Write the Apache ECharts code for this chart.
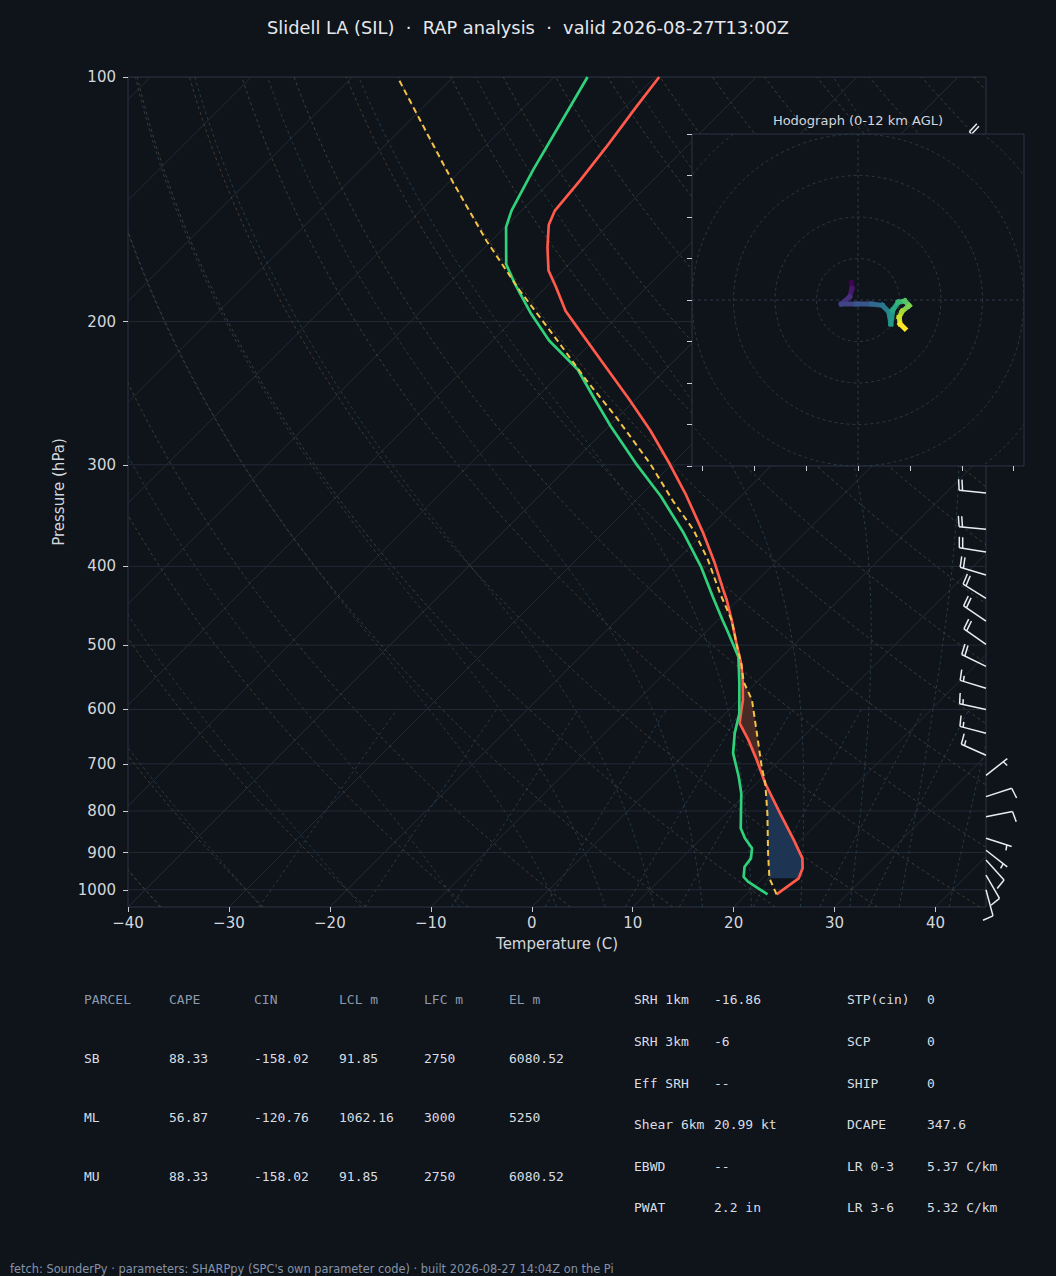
<!DOCTYPE html>
<html><head><meta charset="utf-8">
<script src="https://cdn.jsdelivr.net/npm/echarts@6/dist/echarts.min.js"></script>
<style>html,body{margin:0;padding:0;background:#0f131a;}#c{width:1056px;height:1276px;}</style>
</head><body><div id="c"></div>
<script>
// ---------------- data ----------------
const titleText = 'Slidell LA (SIL)  \u00b7  RAP analysis  \u00b7  valid 2026-08-27T13:00Z';
const footerText = "fetch: SounderPy \u00b7 parameters: SHARPpy (SPC's own parameter code) \u00b7 built 2026-08-27 14:04Z on the Pi";
const pressureTicks = [100,200,300,400,500,600,700,800,900,1000];
const tempTicks = [-40,-30,-20,-10,0,10,20,30,40];

const envP = [1013,968,941,915,868,805,740,692,654,624,610,584,555,529,498,466,440,428,395,363,327,300,272,249,225,205,194,181,173,162,152,146,134,122,109,100];
const envT = [23.0,23.6,23.0,22.0,19.3,15.3,10.9,7.7,4.9,2.4,1.7,0.4,-1.4,-3.2,-5.8,-8.6,-11.1,-12.4,-16.1,-20.2,-25.5,-30.1,-35.5,-40.7,-46.8,-52.4,-55.7,-59.1,-61.4,-63.8,-65.9,-66.7,-67.2,-67.9,-68.9,-69.6];

const dewP = [1013,977,964,937,915,889,864,840,761,726,679,642,607,557,517,479,466,436,400,364,328,299,269,249,229,211,195,179,170,153,146,130,114,100];
const dewT = [22.1,18.9,18.0,17.1,16.9,16.0,14.3,12.9,9.5,7.6,4.7,2.9,1.4,-1.6,-4.3,-8.1,-9.5,-12.8,-17.0,-22.0,-27.9,-33.6,-39.8,-44.1,-48.7,-54.4,-59.0,-63.6,-66.2,-69.9,-71.0,-72.9,-74.8,-76.7];

const parcelP = [1013,968,902,805,740,706,642,584,555,529,498,466,432,393,361,332,299,262,236,213,183,159,135,118,101];
const parcelT = [23.0,20.7,18.1,14.05,10.9,8.9,5.1,1.3,-1.3,-3.2,-5.8,-8.6,-12.4,-16.9,-21.3,-26.3,-32.2,-40.2,-46.8,-53.0,-62.3,-70.5,-79.5,-86.7,-95.0];

const cinLayer = [968, 740];
const capeLayer = [740, 555];

const barbP   = [124,325,360,384,410,438,467,499,531,565,600,642,683,723,768,813,864,894,919,959,1000];
const barbDir = [322,276,275,279,287,302,304,305,296,287,282,285,294,52,72,79,108,128,138,150,165];
const barbSpd = [20,20,20,20,20,20,20,20,20,15,15,15,15,5,10,10,5,5,10,10,10];

const hodoU = [-1.6,-1.44,-2.0,-4.0,-0.4,3.2,5.84,7.44,7.92,8.4,9.68,11.28,12.32,10.64,9.92,10.16,11.28];
const hodoV = [4.16,2.8,0.8,-0.96,-0.96,-0.96,-1.28,-2.88,-5.76,-2.4,-0.56,-0.24,-1.36,-2.72,-4.16,-5.76,-6.88];
const hodoRings = [10,20,30,40,50];
const hodoXTicks = [-37.5,-25,-12.5,0,12.5,25,37.5];
const hodoYTicks = [-40,-30,-20,-10,0,10,20,30,40];

const tableHeader = ['PARCEL','CAPE','CIN','LCL m','LFC m','EL m'];
const tableRows = [
  ['SB','88.33','-158.02','91.85','2750','6080.52'],
  ['ML','56.87','-120.76','1062.16','3000','5250'],
  ['MU','88.33','-158.02','91.85','2750','6080.52']
];
const kinLabels = ['SRH 1km','SRH 3km','Eff SRH','Shear 6km','EBWD','PWAT'];
const kinValues = ['-16.86','-6','--','20.99 kt','--','2.2 in'];
const compLabels = ['STP(cin)','SCP','SHIP','DCAPE','LR 0-3','LR 3-6'];
const compValues = ['0','0','0','347.6','5.37 C/km','5.32 C/km'];

// reference-line parameters (MetPy-style defaults)
const isothermValues = []; for (let t=-160;t<=40;t+=10) isothermValues.push(t);
const dryT0 = []; for (let t=-40;t<=240;t+=10) dryT0.push(t);
const moistT0 = [-40,-30,-20,-10,0,5,10,15,20,25,30,35,40,45];
const mixingRatios = [0.0004,0.001,0.002,0.004,0.007,0.01,0.016,0.024,0.032];

// ---------------- layout ----------------
const BG = '#0f131a';
const GRID = {left:128, top:77, width:858, height:830};
const INSET = {left:692, top:134, width:332, height:332};
const P_BOT = 1050, P_TOP = 100, T_MIN = -40, T_MAX = 45;
const K = (GRID.height/Math.log(P_BOT/P_TOP)) / (GRID.width/(T_MAX-T_MIN));
function skew(T, p){ return [T + K*Math.log(P_BOT/p), Math.log(p)]; }

// thermodynamics for reference curves
const Rd=287.04749, Cpd=1004.6662, Lv=2.50084e6, EPS=0.621957;
function es(Tk){ const tc=Tk-273.15; return 6.112*Math.exp(17.67*tc/(tc+243.5)); }
function rs(p,Tk){ const e=es(Tk); return EPS*e/(p-e); }
function dTdp(p,Tk){ const r=rs(p,Tk); return (1/p)*(Rd*Tk+Lv*r)/(Cpd+(Lv*Lv*r*EPS)/(Rd*Tk*Tk)); }
function logSpace(a,b,n){ const out=[]; for(let i=0;i<n;i++) out.push(Math.exp(Math.log(a)+(Math.log(b)-Math.log(a))*i/(n-1))); return out; }

const isobarCurves = pressureTicks.map(p => [[T_MIN, Math.log(p)], [T_MAX, Math.log(p)]]);
const isothermCurves = isothermValues.map(t => [skew(t,P_BOT), skew(t,P_TOP)]);
const dryCurves = dryT0.map(t0 => logSpace(P_BOT,P_TOP,60).map(p => skew((t0+273.15)*Math.pow(p/1000,Rd/Cpd)-273.15, p)));
function moistCurve(t0){
  const up=[]; let T=t0+273.15, p=1000; up.push([p,T]);
  let h=-5;
  while(p>P_TOP+0.01){
    const k1=dTdp(p,T),k2=dTdp(p+h/2,T+h/2*k1),k3=dTdp(p+h/2,T+h/2*k2),k4=dTdp(p+h,T+h*k3);
    T+=h/6*(k1+2*k2+2*k3+k4); p+=h; up.push([p,T]);
  }
  const down=[]; T=t0+273.15; p=1000; h=5;
  while(p<P_BOT-0.01){
    const k1=dTdp(p,T),k2=dTdp(p+h/2,T+h/2*k1),k3=dTdp(p+h/2,T+h/2*k2),k4=dTdp(p+h,T+h*k3);
    T+=h/6*(k1+2*k2+2*k3+k4); p+=h; down.push([p,T]);
  }
  return down.reverse().concat(up).map(([pp,TT]) => skew(TT-273.15, pp));
}
const moistCurves = moistT0.map(moistCurve);
const mixingCurves = mixingRatios.map(w => logSpace(P_BOT,600,30).map(p => {
  const e = w*p/(EPS+w); const l = Math.log(e/6.112); return skew(243.5*l/(17.67-l), p);
}));

function interpLogP(P, T, p){
  for (let i=0;i<P.length-1;i++){
    if (p<=P[i] && p>=P[i+1]){
      const f=(Math.log(p)-Math.log(P[i]))/(Math.log(P[i+1])-Math.log(P[i]));
      return T[i]+f*(T[i+1]-T[i]);
    }
  }
  return NaN;
}

const viridisStops = ['#440154','#482878','#3e4a89','#31688e','#26828e','#1f9e89','#35b779','#6ece58','#b5de2b','#fde725'];
function hex2rgb(h){ return [parseInt(h.slice(1,3),16),parseInt(h.slice(3,5),16),parseInt(h.slice(5,7),16)]; }
function viridis(t){
  const s=t*(viridisStops.length-1); const i=Math.min(Math.floor(s),viridisStops.length-2); const f=s-i;
  const a=hex2rgb(viridisStops[i]), b=hex2rgb(viridisStops[i+1]);
  return 'rgb('+a.map((v,k)=>Math.round(v+(b[k]-v)*f)).join(',')+')';
}

function curveSeries(curves, style, z){
  return {
    type:'custom', coordinateSystem:'cartesian2d', xAxisIndex:0, yAxisIndex:0, clip:true, z:z, silent:true,
    data: curves.map(() => [0, Math.log(500)]),
    renderItem(params, api){
      const c = curves[params.dataIndex];
      return {type:'polyline', shape:{points:c.map(pt => api.coord(pt))}, style:Object.assign({fill:null}, style)};
    }
  };
}

const tickColor = '#c9ced6', labelColor = '#d3d7dd', frameColor = '#2c3644';
const series = [];
series.push(curveSeries(isobarCurves, {stroke:'#222b37', lineWidth:1}, 1));
series.push(curveSeries(isothermCurves, {stroke:'#232c37', lineWidth:1}, 1));
series.push(curveSeries(dryCurves, {stroke:'#4a4034', lineWidth:0.9, lineDash:[3,3]}, 1));
series.push(curveSeries(moistCurves, {stroke:'#27414c', lineWidth:0.9, lineDash:[3,3]}, 1));
series.push(curveSeries(mixingCurves, {stroke:'#27404f', lineWidth:0.9, lineDash:[3,3]}, 1));

// CAPE / CIN shading
const fillLayers = [{layer:cinLayer, color:'#1e3453'}, {layer:capeLayer, color:'#472a24'}];
series.push({
  type:'custom', coordinateSystem:'cartesian2d', clip:true, z:2, silent:true,
  data: fillLayers.map(() => [0, Math.log(500)]),
  renderItem(params, api){
    const L = fillLayers[params.dataIndex]; const pb=L.layer[0], pt=L.layer[1]; const n=40; const pts=[];
    for (let k=0;k<=n;k++){ const p=Math.exp(Math.log(pb)+(Math.log(pt)-Math.log(pb))*k/n); pts.push(api.coord(skew(interpLogP(parcelP,parcelT,p),p))); }
    for (let k=n;k>=0;k--){ const p=Math.exp(Math.log(pb)+(Math.log(pt)-Math.log(pb))*k/n); pts.push(api.coord(skew(interpLogP(envP,envT,p),p))); }
    return {type:'polygon', shape:{points:pts}, style:{fill:L.color}};
  }
});

series.push({type:'line', name:'Temperature', data: envP.map((p,i)=>skew(envT[i],p)), showSymbol:false, z:3,
  lineStyle:{color:'#ff5a4b', width:2.7}, clip:true, silent:true});
series.push({type:'line', name:'Dewpoint', data: dewP.map((p,i)=>skew(dewT[i],p)), showSymbol:false, z:3,
  lineStyle:{color:'#2fd17a', width:2.7}, clip:true, silent:true});
series.push({type:'line', name:'Parcel', data: parcelP.map((p,i)=>skew(parcelT[i],p)), showSymbol:false, z:4,
  lineStyle:{color:'#f3c445', width:2, type:[6,4]}, clip:true, silent:true});

// wind barbs
series.push({
  type:'custom', coordinateSystem:'cartesian2d', clip:false, z:5, silent:true,
  dimensions:['x','y','dir','spd'], encode:{x:0,y:1},
  data: barbP.map((p,i)=>[T_MAX, Math.log(p), barbDir[i], barbSpd[i]]),
  renderItem(params, api){
    const b = api.coord([api.value(0), api.value(1)]);
    const dir = api.value(2)*Math.PI/180, spd = api.value(3);
    const L=27, sp=3.4, H=10.8, W=3.4;
    const dx=Math.sin(dir), dy=-Math.cos(dir), nx=Math.cos(dir), ny=Math.sin(dir);
    const st={stroke:'#e9edf1', lineWidth:1.5};
    const ch=[{type:'line', shape:{x1:b[0],y1:b[1],x2:b[0]+dx*L,y2:b[1]+dy*L}, style:st}];
    let rem=Math.round(spd/5)*5; const full=Math.floor(rem/10); const half=(rem-full*10)>=5;
    let pos=L;
    for (let k=0;k<full;k++){
      const sx=b[0]+dx*pos, sy=b[1]+dy*pos;
      ch.push({type:'line', shape:{x1:sx,y1:sy,x2:sx+nx*H+dx*W/2,y2:sy+ny*H+dy*W/2}, style:st});
      pos-=sp;
    }
    if (half){
      if (full===0) pos-=1.5*sp;
      const sx=b[0]+dx*pos, sy=b[1]+dy*pos;
      ch.push({type:'line', shape:{x1:sx,y1:sy,x2:sx+nx*H/2+dx*W/4,y2:sy+ny*H/2+dy*W/4}, style:st});
    }
    return {type:'group', children:ch};
  }
});

// hodograph inset
const ringStyle = {stroke:'#2b3947', lineWidth:1, lineDash:[3,3], fill:null};
series.push({
  type:'custom', coordinateSystem:'cartesian2d', xAxisIndex:1, yAxisIndex:1, clip:true, z:22, silent:true,
  data: hodoRings.map(r=>[r,0]),
  renderItem(params, api){
    const c=api.coord([0,0]); const r=api.size([api.value(0),0])[0];
    return {type:'circle', shape:{cx:c[0],cy:c[1],r:r}, style:ringStyle};
  }
});
series.push({
  type:'custom', coordinateSystem:'cartesian2d', xAxisIndex:1, yAxisIndex:1, clip:true, z:22, silent:true,
  data: [[0,0]],
  renderItem(params, api){
    const a=api.coord([-40,0]), b=api.coord([40,0]), c=api.coord([0,-40]), d=api.coord([0,40]);
    return {type:'group', children:[
      {type:'line', shape:{x1:a[0],y1:a[1],x2:b[0],y2:b[1]}, style:ringStyle},
      {type:'line', shape:{x1:c[0],y1:c[1],x2:d[0],y2:d[1]}, style:ringStyle}]};
  }
});
series.push({
  type:'custom', coordinateSystem:'cartesian2d', xAxisIndex:1, yAxisIndex:1, clip:true, z:23, silent:true,
  data: hodoU.map((u,i)=>[u,hodoV[i]]),
  renderItem(params, api){
    const i=params.dataIndex; if (i>=hodoU.length-1) return null;
    const a=api.coord([api.value(0),api.value(1)]), b=api.coord([hodoU[i+1],hodoV[i+1]]);
    return {type:'line', shape:{x1:a[0],y1:a[1],x2:b[0],y2:b[1]},
      style:{stroke:viridis(i/(hodoU.length-2)), lineWidth:5, lineCap:'square'}};
  }
});

// texts
const mono = '13px "DejaVu Sans Mono"';
const graphics = [];
function txt(x,y,text,fill,font,align){ graphics.push({type:'text', x:x, y:y, z:50, silent:true,
  style:{text:text, fill:fill, font:font, align:align||'left', verticalAlign:'middle'}}); }
txt(528, 27, titleText, '#e6e8eb', '17.8px "DejaVu Sans"', 'center');
txt(858, 120, 'Hodograph (0-12 km AGL)', '#d3d7dd', '13px "DejaVu Sans"', 'center');
const colX=[84,169,254,339,424,509], rowY=[1058,1117,1176];
tableHeader.forEach((h,j)=>txt(colX[j], 999, h, '#8c9aae', mono));
tableRows.forEach((r,i)=>r.forEach((v,j)=>txt(colX[j], rowY[i], v, '#d9dde3', mono)));
const rY=[999,1041,1083,1124,1166,1207];
kinLabels.forEach((l,i)=>{ txt(634, rY[i], l, '#d9dde3', mono); txt(714, rY[i], kinValues[i], '#d9dde3', mono); });
compLabels.forEach((l,i)=>{ txt(847, rY[i], l, '#d9dde3', mono); txt(927, rY[i], compValues[i], '#d9dde3', mono); });
txt(10, 1269, footerText, '#8593a8', '11.4px "DejaVu Sans"');

const font = 'DejaVu Sans';
const option = {
  backgroundColor: BG,
  animation: false,
  textStyle: {fontFamily: font},
  grid: [
    {left:GRID.left, top:GRID.top, width:GRID.width, height:GRID.height, show:true, borderColor:frameColor, borderWidth:1, backgroundColor:'transparent', z:0},
    {left:INSET.left, top:INSET.top, width:INSET.width, height:INSET.height, show:true, borderColor:frameColor, borderWidth:1, backgroundColor:BG, z:20}
  ],
  xAxis: [
    {type:'value', gridIndex:0, min:T_MIN, max:T_MAX, splitLine:{show:false}, axisLine:{show:false, onZero:false},
     axisTick:{show:true, customValues:tempTicks, length:5, lineStyle:{color:tickColor}},
     axisLabel:{customValues:tempTicks, color:labelColor, fontSize:15, margin:8, fontFamily:font, formatter:v=>String(v).replace('-','\u2212')},
     name:'Temperature (C)', nameLocation:'middle', nameGap:29, nameTextStyle:{color:labelColor, fontSize:15, fontFamily:font}},
    {type:'value', gridIndex:1, min:-40, max:40, z:21, splitLine:{show:false}, axisLine:{show:false, onZero:false},
     axisTick:{show:true, customValues:hodoXTicks, length:5, lineStyle:{color:tickColor}},
     axisLabel:{show:false}}
  ],
  yAxis: [
    {type:'value', gridIndex:0, min:Math.log(P_TOP), max:Math.log(P_BOT), inverse:true, splitLine:{show:false}, axisLine:{show:false, onZero:false},
     axisTick:{show:true, customValues:pressureTicks.map(Math.log), length:5, lineStyle:{color:tickColor}},
     axisLabel:{customValues:pressureTicks.map(Math.log), color:labelColor, fontSize:15, margin:12, fontFamily:font, formatter:v=>String(Math.round(Math.exp(v)))},
     name:'Pressure (hPa)', nameLocation:'middle', nameGap:57, nameTextStyle:{color:labelColor, fontSize:15, fontFamily:font}},
    {type:'value', gridIndex:1, min:-40, max:40, z:21, splitLine:{show:false}, axisLine:{show:false, onZero:false},
     axisTick:{show:true, customValues:hodoYTicks, length:5, lineStyle:{color:tickColor}},
     axisLabel:{show:false}}
  ],
  graphic: graphics,
  series: series
};
const chart = echarts.init(document.getElementById('c'), null, {renderer:'svg', width:1056, height:1276});
chart.setOption(option);
</script></body></html>
